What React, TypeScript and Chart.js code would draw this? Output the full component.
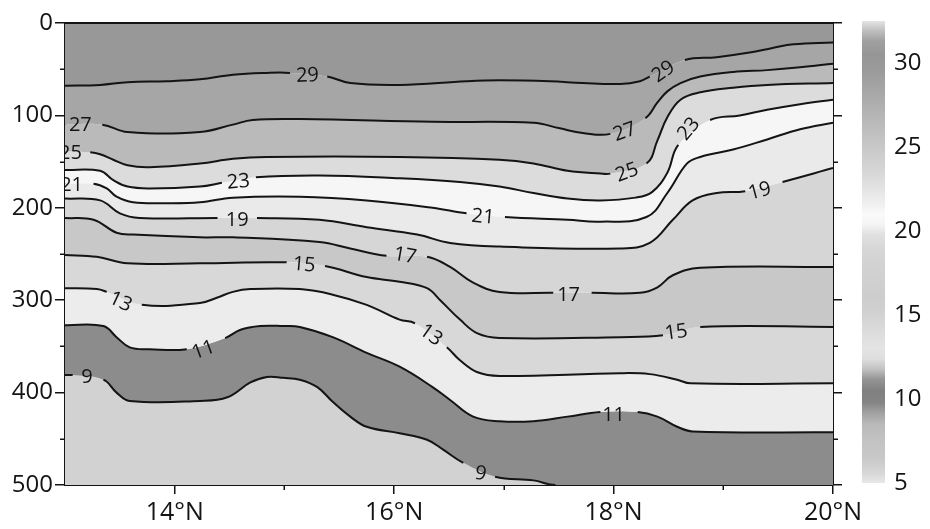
import React, { useEffect, useRef } from 'react';
import { Chart, registerables } from 'chart.js';

Chart.register(...registerables);

// Isotherm levels (°C), top to bottom
const levels = [29, 27, 25, 23, 21, 19, 17, 15, 13, 11, 9];

// Each isotherm: [latitude °N, depth m]
const iso29 = [[13.0,68],[13.32,67],[13.57,64],[13.93,63],[14.23,61],[14.53,56],[14.84,54],[15.05,54],[15.39,58],[15.6,65],[16.05,67],[16.66,63],[16.96,62],[17.42,63],[17.72,65],[18.06,66],[18.24,63],[18.33,58],[18.65,40],[18.94,37],[19.24,32],[19.45,27],[19.64,23],[20.0,21]];
const iso27 = [[13.0,110],[13.34,110],[13.57,118],[14.23,118],[14.53,110],[14.71,105],[15.14,104],[16.35,107],[17.27,108],[17.51,114],[17.72,119],[17.97,120],[18.29,103],[18.4,86],[18.49,74],[18.61,65],[18.79,58],[19.09,53],[19.4,51],[19.7,48],[20.0,44]];
const iso25 = [[13.0,139],[13.23,140],[13.32,142],[13.44,148],[13.57,154],[13.77,156],[14.23,152],[14.53,147],[14.84,145],[16.05,145],[16.96,148],[17.27,152],[17.58,160],[17.88,163],[17.97,163],[18.3,152],[18.4,127],[18.49,102],[18.61,83],[18.79,75],[19.09,70],[19.4,67],[20.0,65]];
const iso23 = [[13.0,159],[13.32,160],[13.44,170],[13.57,177],[13.77,179],[14.23,177],[14.43,173],[14.74,167],[15.32,165],[16.05,168],[16.6,172],[16.96,177],[17.27,184],[17.58,190],[17.88,192],[18.2,189],[18.35,183],[18.49,162],[18.59,132],[18.88,105],[19.15,100],[19.4,94],[19.7,88],[20.0,83]];
const iso21 = [[13.0,174],[13.26,174],[13.38,179],[13.47,188],[13.62,194],[13.93,195],[14.23,194],[14.53,189],[15.14,188],[15.75,192],[16.35,200],[16.66,206],[17.01,210],[17.58,213],[17.88,215],[18.3,210],[18.49,184],[18.67,152],[18.79,145],[19.09,137],[19.4,126],[19.7,115],[20.0,108]];
const iso19 = [[13.0,190],[13.32,192],[13.5,206],[13.68,211],[14.39,211],[14.75,211],[15.32,213],[15.75,221],[16.21,229],[16.51,238],[16.96,242],[18.06,244],[18.33,238],[18.54,213],[18.72,192],[18.94,184],[19.2,182],[19.54,172],[20.0,157]];
const iso17 = [[13.0,211],[13.26,213],[13.47,227],[13.62,229],[14.23,232],[14.53,232],[15.32,237],[15.6,244],[15.93,252],[16.3,253],[16.51,264],[16.72,281],[16.96,291],[17.45,292],[17.8,292],[18.24,292],[18.4,286],[18.54,273],[18.79,265],[20.0,264]];
const iso15 = [[13.0,251],[13.29,253],[13.57,260],[14.23,260],[15.02,259],[15.37,263],[15.75,275],[16.05,280],[16.3,287],[16.42,300],[16.6,321],[16.76,336],[16.96,341],[18.06,340],[18.45,338],[18.79,329],[20.0,329]];
const iso13 = [[13.0,287],[13.29,288],[13.38,291],[13.7,305],[14.23,303],[14.39,297],[14.53,291],[14.69,288],[15.14,288],[15.44,294],[15.75,305],[16.05,321],[16.19,325],[16.48,351],[16.6,365],[16.76,378],[16.96,382],[18.06,379],[18.33,380],[18.58,386],[18.7,390],[20.0,390]];
const iso11 = [[13.0,327],[13.35,328],[13.47,340],[13.59,351],[13.77,353],[14.11,353],[14.46,341],[14.6,332],[14.78,328],[14.99,328],[15.14,329],[15.44,340],[15.75,357],[16.05,372],[16.35,394],[16.51,408],[16.72,426],[16.96,431],[17.27,431],[17.58,426],[17.88,421],[18.22,421],[18.4,426],[18.58,437],[18.72,442],[20.0,443]];
const iso9 = [[13.0,381],[13.07,381],[13.35,386],[13.47,400],[13.59,409],[14.23,409],[14.48,405],[14.69,389],[14.84,383],[14.99,384],[15.14,386],[15.3,394],[15.44,410],[15.6,426],[15.75,437],[16.05,444],[16.3,451],[16.45,462],[16.63,476],[16.92,491],[17.27,495],[17.47,500],[20.0,500]];

const isotherms = [iso29, iso27, iso25, iso23, iso21, iso19, iso17, iso15, iso13, iso11, iso9];
// segments (by start point index) left open for labels
const openSegments = [[7,17],[0,11],[0,14],[6,18],[0,11],[4,16],[8,13],[4,14],[2,12],[5,20],[1,18,21]];

// band greys: >29, 29-27, 27-25, 25-23, 23-21, 21-19, 19-17, 17-15, 15-13, 13-11, 11-9, <9
const bandGreys = [152, 166, 186, 220, 246, 234, 214, 200, 216, 236, 140, 210];

// contour labels
const labelText = ['29','29','27','27','25','25','23','23','21','21','19','19','17','17','15','15','13','13','11','11','9','9'];
const labelLat = [15.21,18.45,13.14,18.10,13.05,18.12,14.58,18.68,13.06,16.81,14.57,19.33,16.10,17.59,15.18,18.57,13.51,16.34,14.26,18.00,13.20,16.79];
const labelDepth = [56,52,110,117,140,161,171,114,175,209,212,181,251,294,261,334,301,337,353,423,382,487];
const labelAngle = [-3,-35,0,-20,0,-20,-5,-50,0,5,0,-15,10,0,5,-8,25,35,-20,0,0,10];

const xTicks = [14, 16, 18, 20];
const xMinorTicks = [15, 17, 19];
const yTicks = [0, 100, 200, 300, 400, 500];
const yMinorTicks = [50, 150, 250, 350, 450];

// colour bar
const cbMin = 5;
const cbMax = 32.5;
const cbTicks = [5, 10, 15, 20, 25, 30];
const cbStopValues = [5, 5.6, 6.5, 7.5, 8.5, 9.2, 9.8, 10.5, 11.2, 11.8, 12.4, 13, 14, 15, 16, 17, 18, 19, 19.8, 20.4, 21, 21.6, 22.5, 23.5, 24.5, 25.5, 26.5, 27.5, 28.5, 29.5, 30.5, 31.3, 31.9, 32.5];
const cbStopGreys = [232, 215, 200, 195, 185, 160, 132, 128, 150, 195, 222, 228, 220, 210, 205, 208, 210, 215, 225, 245, 250, 240, 228, 215, 205, 195, 185, 175, 165, 155, 150, 160, 190, 228];

const grey = (g: number) => `rgb(${g},${g},${g})`;
const INK = '#141414';
const FONT = '"Open Sans", "DejaVu Sans", sans-serif';

const overlayPlugin = {
  id: 'overlay',
  afterDatasetsDraw(chart: any) {
    const { ctx, chartArea: a, scales } = chart;
    ctx.save();
    ctx.beginPath();
    ctx.rect(a.left, a.top, a.right - a.left, a.bottom - a.top);
    ctx.clip();
    ctx.font = `20px ${FONT}`;
    ctx.fillStyle = INK;
    ctx.textAlign = 'center';
    ctx.textBaseline = 'middle';
    labelText.forEach((t, i) => {
      const x = scales.x.getPixelForValue(labelLat[i]);
      const y = scales.y.getPixelForValue(labelDepth[i]);
      ctx.save();
      ctx.translate(x, y);
      ctx.rotate((labelAngle[i] * Math.PI) / 180);
      ctx.fillText(t, 0, 1);
      ctx.restore();
    });
    ctx.restore();
  },
  afterDraw(chart: any) {
    const { ctx, chartArea: a, scales } = chart;
    ctx.save();
    ctx.strokeStyle = INK;
    ctx.lineWidth = 2;
    ctx.beginPath();
    ctx.moveTo(a.left - 1, a.top);
    ctx.lineTo(a.right + 1, a.top);
    ctx.stroke();
    ctx.lineWidth = 1.5;
    ctx.beginPath();
    yMinorTicks.forEach((v) => {
      const y = Math.round(scales.y.getPixelForValue(v)) + 0.25;
      ctx.moveTo(a.left - 5, y);
      ctx.lineTo(a.left, y);
      ctx.moveTo(a.right, y);
      ctx.lineTo(a.right + 5, y);
    });
    xMinorTicks.forEach((v) => {
      const x = Math.round(scales.x.getPixelForValue(v)) + 0.25;
      ctx.moveTo(x, a.bottom);
      ctx.lineTo(x, a.bottom + 5);
    });
    ctx.stroke();
    ctx.restore();
  },
};

export default function App() {
  const mainRef = useRef<HTMLCanvasElement>(null);
  const barRef = useRef<HTMLCanvasElement>(null);

  useEffect(() => {
    const toPts = (arr: number[][]) => arr.map(([x, y]) => ({ x, y }));
    const TENSION = 0.4;

    const fillSets: any[] = isotherms.map((iso, i) => ({
      label: `fill ${levels[i]}`,
      data: toPts(iso),
      borderWidth: 0,
      borderColor: 'rgba(0,0,0,0)',
      backgroundColor: grey(bandGreys[i]),
      fill: i === 0 ? { value: 0 } : '-1',
      pointRadius: 0,
      tension: TENSION,
    }));
    fillSets.push({
      label: 'fill below 9',
      data: toPts(iso9),
      borderWidth: 0,
      borderColor: 'rgba(0,0,0,0)',
      backgroundColor: grey(bandGreys[11]),
      fill: { value: 500 },
      pointRadius: 0,
      tension: TENSION,
    });

    const lineSets: any[] = isotherms.map((iso, i) => ({
      label: `${levels[i]}`,
      data: toPts(iso),
      fill: false,
      borderColor: INK,
      borderWidth: 2,
      pointRadius: 0,
      tension: TENSION,
      segment: {
        borderColor: (c: any) => (openSegments[i].includes(c.p0DataIndex) ? 'rgba(0,0,0,0)' : INK),
      },
    }));

    const tickFont = { family: FONT, size: 24 };

    const main = new Chart(mainRef.current as HTMLCanvasElement, {
      type: 'line',
      data: { datasets: [...fillSets, ...lineSets] },
      options: {
        animation: false,
        responsive: false,
        maintainAspectRatio: false,
        layout: { padding: { top: 23, left: 0, right: 0, bottom: 0 } },
        plugins: {
          legend: { display: false },
          tooltip: { enabled: false },
          filler: { drawTime: 'beforeDatasetsDraw', propagate: false },
        } as any,
        scales: {
          x: {
            type: 'linear',
            min: 13,
            max: 20,
            afterBuildTicks: (s: any) => { s.ticks = xTicks.map((v) => ({ value: v })); },
            afterFit: (s: any) => { s.height = 44; s.paddingLeft = 0; s.paddingRight = 0; },
            ticks: { callback: (v: any) => `${v}°N`, font: { family: FONT, size: 25 }, color: INK, padding: 4, maxRotation: 0, autoSkip: false },
            grid: { drawOnChartArea: false, drawTicks: true, tickLength: 9, color: INK, lineWidth: 1.5 },
            border: { display: true, color: INK, width: 2 },
          },
          y: {
            type: 'linear',
            min: 0,
            max: 500,
            reverse: true,
            position: 'left',
            afterBuildTicks: (s: any) => { s.ticks = yTicks.map((v) => ({ value: v })); },
            afterFit: (s: any) => { s.width = 65; s.paddingTop = 0; s.paddingBottom = 0; },
            ticks: { font: tickFont, color: INK, padding: 2 },
            grid: { drawOnChartArea: false, drawTicks: true, tickLength: 10, color: INK, lineWidth: 1.5 },
            border: { display: true, color: INK, width: 2 },
          },
          y2: {
            type: 'linear',
            min: 0,
            max: 500,
            reverse: true,
            position: 'right',
            afterBuildTicks: (s: any) => { s.ticks = yTicks.map((v) => ({ value: v })); },
            afterFit: (s: any) => { s.width = 97; s.paddingTop = 0; s.paddingBottom = 0; },
            ticks: { display: false },
            grid: { drawOnChartArea: false, drawTicks: true, tickLength: 9, color: INK, lineWidth: 1.5 },
            border: { display: true, color: INK, width: 2 },
          },
        },
      } as any,
      plugins: [overlayPlugin],
    });

    const bar = new Chart(barRef.current as HTMLCanvasElement, {
      type: 'bar',
      data: {
        labels: [''],
        datasets: [
          {
            data: [[cbMin, cbMax]] as any,
            borderWidth: 0,
            barPercentage: 1,
            categoryPercentage: 1,
            backgroundColor: (c: any) => {
              const chart = c.chart;
              const y = chart.scales && chart.scales.y;
              if (!chart.chartArea || !y) return grey(200);
              const y0 = y.getPixelForValue(cbMin);
              const y1 = y.getPixelForValue(cbMax);
              const g = chart.ctx.createLinearGradient(0, y0, 0, y1);
              cbStopValues.forEach((v, i) => g.addColorStop((v - cbMin) / (cbMax - cbMin), grey(cbStopGreys[i])));
              return g;
            },
          },
        ],
      },
      options: {
        animation: false,
        responsive: false,
        maintainAspectRatio: false,
        layout: { padding: { top: 21, left: 12, right: 0, bottom: 46 } },
        plugins: { legend: { display: false }, tooltip: { enabled: false } },
        scales: {
          x: { display: false },
          y: {
            position: 'right',
            min: cbMin,
            max: cbMax,
            afterBuildTicks: (s: any) => { s.ticks = cbTicks.map((v) => ({ value: v })); },
            afterFit: (s: any) => { s.width = 45; s.paddingTop = 0; s.paddingBottom = 0; },
            ticks: { font: tickFont, color: INK, padding: 9 },
            grid: { display: false, drawTicks: false },
            border: { display: false },
          },
        },
      } as any,
    });

    return () => {
      main.destroy();
      bar.destroy();
    };
  }, []);

  return (
    <div style={{ position: 'fixed', left: 0, top: 0, width: 930, height: 529, background: '#fff' }}>
      <canvas ref={mainRef} width={930} height={529} style={{ position: 'absolute', left: 0, top: 0 }} />
      <canvas ref={barRef} width={80} height={529} style={{ position: 'absolute', left: 850, top: 0 }} />
    </div>
  );
}
